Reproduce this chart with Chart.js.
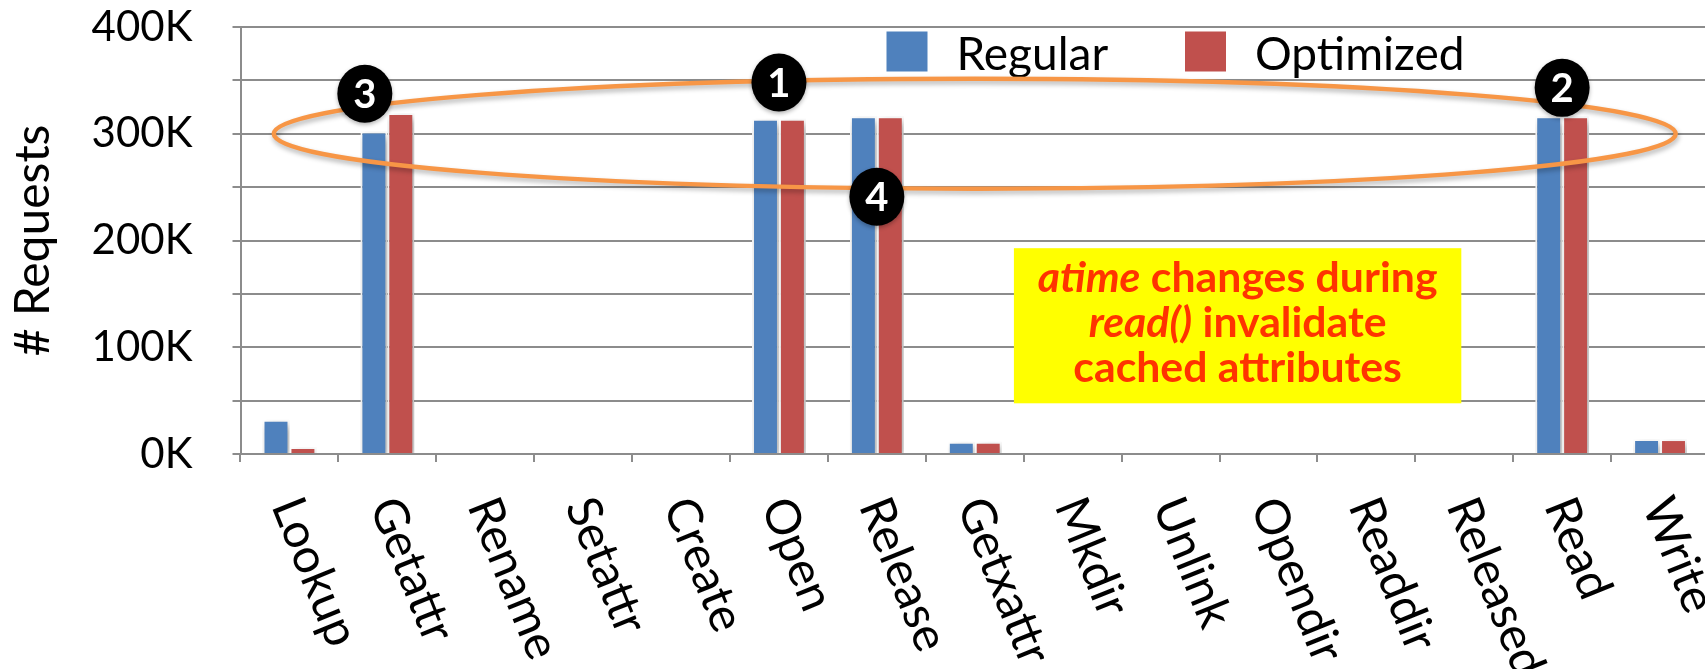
<!DOCTYPE html>
<html>
<head>
<meta charset="utf-8">
<script src="https://cdn.jsdelivr.net/npm/chart.js@4/dist/chart.umd.min.js"></script>
<style>
  html, body { margin: 0; padding: 0; background: #ffffff; overflow: hidden; }
  #wrap { width: 1712px; height: 669px; position: relative; }
</style>
</head>
<body>
<div id="wrap"><canvas id="chart"></canvas></div>
<script>
// FUSE request counts per operation type
const categories = ['Lookup', 'Getattr', 'Rename', 'Setattr', 'Create', 'Open', 'Release',
                    'Getxattr', 'Mkdir', 'Unlink', 'Opendir', 'Readdir', 'Releasedir', 'Read', 'Write'];
const regular   = [32000, 302000, 0, 0, 0, 314000, 316500, 11500, 0, 0, 0, 0, 0, 316500, 14000];
const optimized = [6500, 319500, 0, 0, 0, 314000, 316500, 11500, 0, 0, 0, 0, 0, 316500, 14000];
const seriesNames = ['Regular', 'Optimized'];
const seriesColors = ['#4F81BD', '#C0504D'];

// y axis: grid every 50K, labels every 100K
const yMax = 400000;
const yStep = 50000;
const yLabelEvery = 100000;

// numbered callouts: label, category position, value position
const badgeNumbers  = ['1', '2', '3', '4'];
const badgeCategory = [5, 13, 0.77, 6];
const badgeValue    = [348000, 343000, 337500, 241000];

// highlighted band around ~300K requests
const ringCenterCategory = 7;
const ringHalfWidthCategories = 7.16;
const ringCenterValue = 300000;
const ringHalfHeightValue = 51500;

// note box: category span and value span
const noteCategorySpan = [7.4, 11.97];
const noteValueSpan = [192800, 47500];
const noteLines = [
  [['atime', true], [' changes during', false]],
  [['read()', true], [' invalidate', false]],
  [['cached attributes', false]]
];

const FONT = 'Lato';
const GRID = '#8c8c8c';

const overlay = {
  id: 'overlay',
  beforeDatasetsDraw(chart) {
    const ctx = chart.ctx;
    ctx.save();
    ctx.shadowColor = 'rgba(0,0,0,0.35)';
    ctx.shadowBlur = 8;
    ctx.shadowOffsetX = 3;
    ctx.shadowOffsetY = 4;
  },
  afterDatasetsDraw(chart) {
    chart.ctx.restore();
  },
  afterDraw(chart) {
    const ctx = chart.ctx;
    const xs = chart.scales.x, ys = chart.scales.y;
    const area = chart.chartArea;

    // rotated category labels, reading downward
    ctx.save();
    ctx.font = '48px ' + FONT;
    ctx.fillStyle = '#000';
    ctx.textAlign = 'left';
    ctx.textBaseline = 'middle';
    categories.forEach((lab, i) => {
      const x = xs.getPixelForValue(i);
      ctx.save();
      ctx.translate(x - 4, area.bottom + 46);
      ctx.rotate(68 * Math.PI / 180);
      ctx.fillText(lab, 0, 0);
      ctx.restore();
    });
    ctx.restore();

    // legend
    ctx.save();
    const lx = area.left + 646, ly = area.top + 4.5;
    ctx.font = '46px ' + FONT;
    ctx.textBaseline = 'alphabetic';
    ctx.textAlign = 'left';
    const itemX = [lx, lx + 298.5];
    seriesNames.forEach((name, k) => {
      ctx.fillStyle = seriesColors[k];
      ctx.fillRect(itemX[k], ly, 41, 40);
      ctx.fillStyle = '#000';
      ctx.fillText(name, itemX[k] + 70, ly + 38);
    });
    ctx.restore();

    // note box
    const bx0 = xs.getPixelForValue(noteCategorySpan[0]);
    const bx1 = xs.getPixelForValue(noteCategorySpan[1]);
    const by0 = ys.getPixelForValue(noteValueSpan[0]);
    const by1 = ys.getPixelForValue(noteValueSpan[1]);
    ctx.save();
    ctx.fillStyle = '#FFFF00';
    ctx.fillRect(bx0, by0, bx1 - bx0, by1 - by0);
    const seg = (s, it, size) => (it ? 'italic ' : '') + 'bold ' + size + 'px ' + FONT;
    const widthOf = (line, size) => line.reduce((w, [s, it]) => { ctx.font = seg(s, it, size); return w + ctx.measureText(s).width; }, 0);
    const size = 40 * 400 / widthOf(noteLines[0], 40);
    const cxNote = (bx0 + bx1) / 2;
    ctx.fillStyle = '#FF3300';
    ctx.textBaseline = 'alphabetic';
    ctx.textAlign = 'left';
    noteLines.forEach((line, li) => {
      let x = cxNote - widthOf(line, size) / 2;
      const y = by0 + 43.7 + li * 45;
      line.forEach(([s, it]) => {
        ctx.font = seg(s, it, size);
        ctx.fillText(s, x, y);
        x += ctx.measureText(s).width;
      });
    });
    ctx.restore();

    // ring
    const rcx = xs.getPixelForValue(ringCenterCategory);
    const rcy = ys.getPixelForValue(ringCenterValue);
    const rrx = xs.getPixelForValue(ringCenterCategory + ringHalfWidthCategories) - rcx;
    const rry = ys.getPixelForValue(ringCenterValue - ringHalfHeightValue) - rcy;
    ctx.save();
    ctx.shadowColor = 'rgba(0,0,0,0.3)';
    ctx.shadowBlur = 5;
    ctx.shadowOffsetX = 1;
    ctx.shadowOffsetY = 3;
    ctx.strokeStyle = '#F79646';
    ctx.lineWidth = 4.5;
    ctx.beginPath();
    ctx.ellipse(rcx, rcy, rrx, rry, 0, 0, Math.PI * 2);
    ctx.stroke();
    ctx.restore();

    // numbered callouts
    badgeNumbers.forEach((n, i) => {
      const x = xs.getPixelForValue(badgeCategory[i]);
      const y = ys.getPixelForValue(badgeValue[i]);
      ctx.save();
      ctx.shadowColor = 'rgba(0,0,0,0.3)';
      ctx.shadowBlur = 4;
      ctx.shadowOffsetY = 2;
      ctx.fillStyle = '#000';
      ctx.beginPath();
      ctx.ellipse(x, y, 27.5, 29, 0, 0, Math.PI * 2);
      ctx.fill();
      ctx.restore();
      ctx.save();
      ctx.fillStyle = '#fff';
      ctx.font = 'bold 40px ' + FONT;
      ctx.textAlign = 'center';
      ctx.textBaseline = 'alphabetic';
      ctx.fillText(n, x, y + 14);
      ctx.restore();
    });
  }
};

new Chart(document.getElementById('chart'), {
  type: 'bar',
  data: {
    labels: categories,
    datasets: [regular, optimized].map((vals, k) => ({
      label: seriesNames[k],
      data: vals,
      backgroundColor: seriesColors[k],
      borderColor: '#ffffff',
      borderWidth: 2,
      borderSkipped: 'start',
      categoryPercentage: 0.55,
      barPercentage: 1.0,
      clip: false
    }))
  },
  options: {
    responsive: true,
    maintainAspectRatio: false,
    animation: false,
    layout: { padding: { top: 27, right: 3, left: 0, bottom: 0 } },
    plugins: { legend: { display: false }, tooltip: { enabled: false } },
    scales: {
      x: {
        offset: true,
        grid: { drawOnChartArea: false, drawTicks: true, tickLength: 8, color: GRID, lineWidth: 2 },
        border: { color: GRID, width: 2 },
        ticks: { display: false },
        afterFit(s) { s.height = 215; }
      },
      y: {
        min: 0,
        max: yMax,
        ticks: {
          stepSize: yStep,
          autoSkip: false,
          padding: 40,
          color: '#000',
          font: { family: FONT, size: 42 },
          callback(v) { return v % yLabelEvery === 0 ? (v / 1000) + 'K' : ''; }
        },
        grid: { color: GRID, lineWidth: 2, tickLength: 8 },
        border: { color: GRID, width: 2 },
        title: {
          display: true,
          text: '# Requests',
          color: '#000',
          font: { family: FONT, size: 48 },
          padding: { top: 5, bottom: 0 }
        },
        afterFit(s) {
          s.width = 240.5;
          s.paddingTop = 0;
          s.paddingBottom = 0;
        }
      }
    }
  },
  plugins: [overlay]
});
</script>
</body>
</html>
